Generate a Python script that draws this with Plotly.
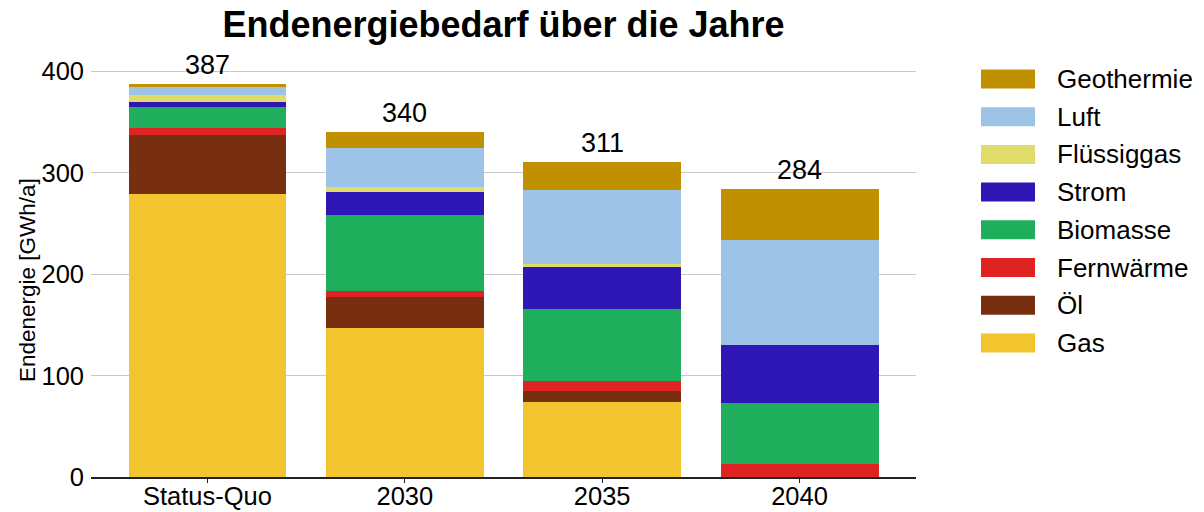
import plotly.graph_objects as go

# Jahre / Szenarien
categories = ["Status-Quo", "2030", "2035", "2040"]

# Endenergie je Energieträger in GWh/a (von unten nach oben gestapelt)
gas = [279, 147, 73.5, 0]
oel = [58, 30, 11, 0]
fernwaerme = [7, 6, 10.5, 12.5]
biomasse = [21, 75, 71, 60]
strom = [5, 23, 41.5, 58]
fluessiggas = [7, 5, 2.5, 0]
luft = [8, 38, 73, 103.5]
geothermie = [2, 16, 28, 50]

series = [
    ("Gas", gas, "#F2C42E"),
    ("Öl", oel, "#772F10"),
    ("Fernwärme", fernwaerme, "#DF2222"),
    ("Biomasse", biomasse, "#1FAF5C"),
    ("Strom", strom, "#2E17B5"),
    ("Flüssiggas", fluessiggas, "#E0DC6A"),
    ("Luft", luft, "#9DC3E6"),
    ("Geothermie", geothermie, "#C09000"),
]

totals = [sum(s[1][i] for s in series) for i in range(len(categories))]

FONT = "Liberation Sans, Arial, sans-serif"

fig = go.Figure()
for name, vals, color in series:
    fig.add_trace(go.Bar(
        x=categories, y=vals, name=name,
        marker=dict(color=color, line=dict(width=0)),
        showlegend=False,
    ))

# Summen über den Balken
for i, tot in enumerate(totals):
    fig.add_annotation(
        x=i, y=tot, text=f"{round(tot):d}", showarrow=False,
        yanchor="bottom", yshift=2, font=dict(size=27, color="#000000", family=FONT),
    )

# Legende rechts neben dem Diagramm (oberster Stapel zuerst)
W, H = 1204, 512
L, R, T, B = 91, 288, 51, 35
pw, ph = W - L - R, H - T - B

def px_to_paper_x(px):
    return (px - L) / pw

def px_to_paper_y(py):
    return (H - B - py) / ph

for i, (name, vals, color) in enumerate(reversed(series)):
    cy = 79 + i * 37.7
    fig.add_shape(
        type="rect", xref="paper", yref="paper",
        x0=px_to_paper_x(981), x1=px_to_paper_x(1035),
        y0=px_to_paper_y(cy + 9.5), y1=px_to_paper_y(cy - 9.5),
        fillcolor=color, line=dict(width=0),
    )
    fig.add_annotation(
        xref="paper", yref="paper", x=px_to_paper_x(1055), y=px_to_paper_y(cy),
        text=name, showarrow=False, xanchor="left", yanchor="middle",
        font=dict(size=26, color="#000000", family=FONT),
    )

# Achsentitel der y-Achse
fig.add_annotation(
    xref="paper", yref="paper", x=px_to_paper_x(27), y=px_to_paper_y(280),
    text="Endenergie [GWh/a]", textangle=-90, showarrow=False,
    xanchor="center", yanchor="middle",
    font=dict(size=22.5, color="#000000", family=FONT),
)

fig.update_layout(
    width=W, height=H,
    margin=dict(l=L, r=R, t=T, b=B, pad=0),
    barmode="stack", bargap=0.2,
    plot_bgcolor="white", paper_bgcolor="white",
    font=dict(family=FONT, size=25.5, color="#000000"),
    title=dict(
        text="<b>Endenergiebedarf über die Jahre</b>",
        x=(L + pw / 2) / W, xanchor="center", y=1 - 24 / H, yanchor="middle",
        font=dict(size=36, color="#000000", family=FONT),
    ),
    xaxis=dict(
        type="category", automargin=False,
        range=[-0.59, 3.59], showline=True, linecolor="#222222", linewidth=1.5,
        ticks="outside", ticklen=4, tickcolor="#222222",
        tickfont=dict(size=25.5), showgrid=False, ticklabelstandoff=-8,
    ),
    yaxis=dict(
        automargin=False,
        range=[0, 420], tickvals=[0, 100, 200, 300, 400],
        showgrid=True, gridcolor="#C8C8C8", gridwidth=1,
        zeroline=False, showline=False, ticks="", ticklabelstandoff=6,
        tickfont=dict(size=25.5),
    ),
)

fig.write_html("out.html")
